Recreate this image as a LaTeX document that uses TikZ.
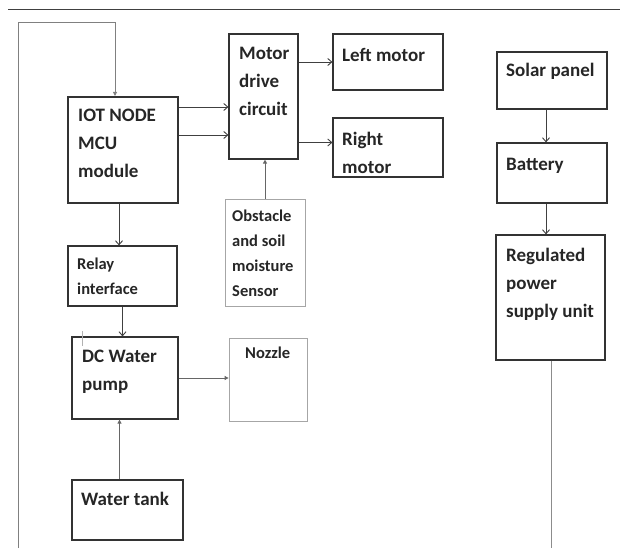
\documentclass[tikz,border=0pt]{standalone}
\usepackage{fontspec}
\setmainfont{Carlito}
\usetikzlibrary{arrows.meta}

\begin{document}
\begin{tikzpicture}[x=1pt,y=-1pt,
  box/.style={draw=black!80,line width=1.2pt,inner sep=0pt},
  lite/.style={draw=black!35,line width=0.8pt,inner sep=0pt},
  big/.style={anchor=north west,inner sep=0pt,align=left,text=black!85,font=\bfseries\fontsize{19}{28}\selectfont},
  small/.style={big,font=\bfseries\fontsize{16.5}{25}\selectfont},
  arr/.style={draw=black!75,line width=0.9pt,-{Straight Barb[length=4pt,width=7pt]}},
  arrf/.style={draw=black!60,line width=0.9pt,-{Triangle[length=4pt,width=4pt]}}]
\useasboundingbox (0,0) rectangle (628,548);
% header rule
\draw[black!75,line width=1pt] (8,10) -- (620,10);

% boxes
\node[box,line width=2pt,minimum width=110pt,minimum height=106pt] (iot) at (123,150) {};
\node[box,minimum width=69pt,minimum height=125pt] (drv) at (263.5,96.5) {};
\node[box,minimum width=110pt,minimum height=56pt] (lm) at (388,62) {};
\node[box,minimum width=110pt,minimum height=59pt] (rm) at (388,147.5) {};
\node[lite,minimum width=80pt,minimum height=107pt] (sen) at (265,252.5) {};
\node[box,minimum width=109pt,minimum height=60pt] (rly) at (122.5,276) {};
\node[box,minimum width=106pt,minimum height=82pt] (pmp) at (125,378) {};
\node[lite,minimum width=78pt,minimum height=83pt] (noz) at (268,379.5) {};
\node[box,minimum width=111pt,minimum height=60pt] (tnk) at (127.5,510) {};
\node[box,minimum width=110pt,minimum height=57pt] (sol) at (552,80.5) {};
\node[box,minimum width=110pt,minimum height=60pt] (bat) at (552,173) {};
\node[box,minimum width=109pt,minimum height=125pt] (psu) at (550.5,297.5) {};

% texts
\node[big] (iot-t) at (78,109) {IOT NODE\\MCU\\module};
\node[big] (drv-t) at (239,47) {Motor\\drive\\circuit};
\node[big] (lm-t) at (342,48) {Left motor};
\node[big] (rm-t) at (342,132) {Right\\motor};
\node[small] (sen-t) at (232,210) {Obstacle\\and soil\\moisture\\Sensor};
\node[small] (rly-t) at (77,258) {Relay\\interface};
\node[big] (pmp-t) at (82,350) {DC Water\\pump};
\node[small] (noz-t) at (245,347) {Nozzle};
\node[big] (tnk-t) at (81,492) {Water tank};
\node[big] (sol-t) at (506,63) {Solar panel};
\node[big] (bat-t) at (506,158) {Battery};
\node[big] (psu-t) at (506,248) {Regulated\\power\\supply unit};

% connectors
\coordinate (fbend) at (18,548);
\coordinate (fbtop) at (115,22);
\coordinate (psuend) at (551,548);
\draw[arrf,draw=black!50] (fbend) |- (fbtop) -- (fbtop |- iot.north);
\draw[arr] ([yshift=-11pt]iot.north east) -- ([yshift=-11pt]iot.north east -| drv.west);
\draw[arr] ([yshift=-39pt]iot.north east) -- ([yshift=-39pt]iot.north east -| drv.west);
\draw[arr] (drv.east |- lm.west) -- (lm.west);
\draw[arr] ([yshift=5pt]drv.east |- rm.west) -- ([yshift=5pt]rm.west);
\draw[arrf] (sen.north) -- (sen.north |- drv.south);
\draw[arr] ([xshift=-4pt]iot.south) -- ([xshift=-4pt]iot.south |- rly.north);
\draw[arr] (rly.south) -- (rly.south |- pmp.north);
\draw[arrf] (pmp.east) -- (pmp.east -| noz.west);
\draw[arrf] ([xshift=-8pt]tnk.north) -- ([xshift=-8pt]tnk.north |- pmp.south);
\draw[arr] ([xshift=-6pt]sol.south) -- ([xshift=-6pt]sol.south |- bat.north);
\draw[arr] ([xshift=-6pt]bat.south) -- ([xshift=-6pt]bat.south |- psu.north);
\draw[black!45,line width=1pt] (psu.south -| psuend) -- (psuend);
\draw[black!30,line width=0.6pt] (82,331) -- (82,346);
\end{tikzpicture}
\end{document}
